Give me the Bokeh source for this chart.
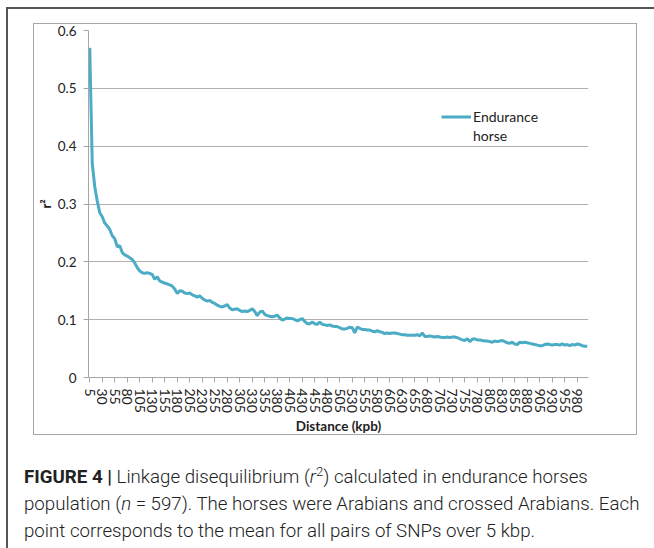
from bokeh.plotting import figure
from bokeh.models import (FixedTicker, Legend, LegendItem, Div,
                          ColumnDataSource, Range1d)
from bokeh.layouts import column
from bokeh.embed import file_html
from bokeh.resources import INLINE

# ---------------- data ----------------
distance_kbp = list(range(5, 1001, 5))
r2_values = [
    0.570, 0.370, 0.330, 0.305, 0.285, 0.278, 0.267, 0.262, 0.256, 0.245,
    0.240, 0.226, 0.228, 0.216, 0.212, 0.210, 0.207, 0.204, 0.198, 0.190,
    0.184, 0.181, 0.180, 0.181, 0.180, 0.178, 0.170, 0.174, 0.167, 0.165,
    0.163, 0.162, 0.160, 0.158, 0.153, 0.145, 0.150, 0.149, 0.146, 0.145,
    0.146, 0.143, 0.141, 0.139, 0.141, 0.137, 0.134, 0.132, 0.133, 0.130,
    0.128, 0.125, 0.123, 0.122, 0.124, 0.126, 0.120, 0.117, 0.118, 0.119,
    0.116, 0.114, 0.115, 0.114, 0.116, 0.119, 0.114, 0.107, 0.113, 0.115,
    0.109, 0.107, 0.106, 0.105, 0.106, 0.108, 0.103, 0.099, 0.101, 0.103,
    0.102, 0.102, 0.100, 0.098, 0.100, 0.102, 0.097, 0.093, 0.093, 0.096,
    0.093, 0.092, 0.096, 0.092, 0.091, 0.090, 0.091, 0.089, 0.088, 0.088,
    0.086, 0.084, 0.084, 0.085, 0.087, 0.086, 0.077, 0.087, 0.085, 0.083,
    0.083, 0.082, 0.082, 0.080, 0.079, 0.081, 0.079, 0.078, 0.076, 0.077,
    0.076, 0.077, 0.077, 0.076, 0.075, 0.074, 0.074, 0.073, 0.073, 0.073,
    0.073, 0.074, 0.072, 0.077, 0.071, 0.071, 0.072, 0.071, 0.070, 0.071,
    0.070, 0.069, 0.069, 0.070, 0.069, 0.070, 0.070, 0.069, 0.067, 0.065,
    0.064, 0.067, 0.062, 0.066, 0.067, 0.065, 0.065, 0.064, 0.063, 0.063,
    0.062, 0.061, 0.063, 0.062, 0.063, 0.064, 0.062, 0.060, 0.059, 0.061,
    0.058, 0.057, 0.061, 0.060, 0.061, 0.060, 0.059, 0.058, 0.057, 0.056,
    0.055, 0.055, 0.057, 0.058, 0.057, 0.056, 0.057, 0.057, 0.056, 0.058,
    0.056, 0.057, 0.055, 0.057, 0.056, 0.058, 0.057, 0.055, 0.054, 0.054,
]
x_tick_values = list(range(5, 1000, 25))          # 5, 30, ..., 980
y_tick_values = [0, 0.1, 0.2, 0.3, 0.4, 0.5, 0.6]
series_label_lines = ["Endurance", "horse"]
x_axis_title = "Distance (kpb)"
y_axis_title = "r\u00b2"
caption_html = ("<b style='font-weight:700'>FIGURE 4 |</b> Linkage disequilibrium "
                "(<i>r</i><sup style='font-size:70%'>2</sup>) "
                "calculated in endurance horses<br>population (<i>n</i> = 597). "
                "The horses were Arabians and crossed Arabians. Each<br>point "
                "corresponds to the mean for all pairs of SNPs over 5 kbp.")

# ---------------- figure (chart area) ----------------
W, H = 604, 412
OX, OY = 34, 24            # page position of the canvas
FL, FT, FR, FB = 87 - OX, 30 - OY, 588 - OX, 377 - OY

p = figure(width=W, height=H, output_backend="svg", toolbar_location=None,
           x_range=Range1d(2.5, 1002.5), y_range=Range1d(0, 0.6),
           min_border_left=FL, min_border_right=W - FR,
           min_border_top=FT, min_border_bottom=H - FB,
           margin=(14, 0, 0, 25),
           styles={"border": "1px solid #A6A6A6"})
p.outline_line_color = None
p.background_fill_color = "white"
p.border_fill_color = "white"

src = ColumnDataSource(dict(x=distance_kbp, y=r2_values))
line = p.line("x", "y", source=src, line_color="#4BACC6", line_width=3)

axis_col = "#A6A6A6"
lab_font = "Lato"

p.xgrid.visible = False
p.ygrid.grid_line_color = "#B0B0B0"
p.ygrid.grid_line_width = 1

xa = p.xaxis[0]
xa.ticker = FixedTicker(ticks=x_tick_values)
xa.major_label_orientation = "vertical"
xa.major_label_text_font = lab_font
xa.major_label_text_font_size = "14px"
xa.major_label_text_color = "#222222"
xa.major_label_standoff = 6
xa.axis_line_color = axis_col
xa.major_tick_line_color = axis_col
xa.major_tick_out = 5
xa.major_tick_in = 0
xa.minor_tick_line_color = None
xa.axis_label = x_axis_title
xa.axis_label_text_font = lab_font
xa.axis_label_text_font_style = "bold"
xa.axis_label_text_font_size = "13.5px"
xa.axis_label_text_color = "#222222"
xa.axis_label_standoff = 2

ya = p.yaxis[0]
ya.ticker = FixedTicker(ticks=y_tick_values)
ya.major_label_overrides = {0: "0"}
ya.major_label_text_font = lab_font
ya.major_label_text_font_size = "13.5px"
ya.major_label_text_color = "#222222"
ya.major_label_standoff = 7
ya.axis_line_color = axis_col
ya.major_tick_line_color = axis_col
ya.major_tick_out = 5
ya.major_tick_in = 0
ya.minor_tick_line_color = None
ya.axis_label = y_axis_title
ya.axis_label_text_font = lab_font
ya.axis_label_text_font_style = "bold"
ya.axis_label_text_font_size = "13px"
ya.axis_label_text_color = "#222222"
ya.axis_label_standoff = 1

legend = Legend(items=[LegendItem(label=series_label_lines[0], renderers=[line]),
                       LegendItem(label=series_label_lines[1], renderers=[])],
                location=(353, 232), margin=0, padding=8, spacing=0,
                glyph_width=30, glyph_height=19, label_height=19,
                label_standoff=2,
                label_text_font=lab_font, label_text_font_size="14px",
                label_text_color="#222222",
                border_line_color=None, background_fill_color="white",
                background_fill_alpha=1.0)
p.add_layout(legend, "center")

caption = Div(text=caption_html, width=644, height=110,
              styles={"font-family": "Roboto, 'Liberation Sans', sans-serif",
                      "font-weight": "300", "font-size": "18.7px",
                      "line-height": "27px", "color": "#222222",
                      "padding-left": "11px", "padding-top": "18px",
                      "box-sizing": "border-box", "white-space": "nowrap"})

layout = column(p, caption, spacing=0, margin=(7, 0, 0, 6),
                styles={"border-top": "2px solid #555555",
                        "border-left": "2px solid #555555"})

open("out.html", "w").write(file_html(layout, INLINE))
